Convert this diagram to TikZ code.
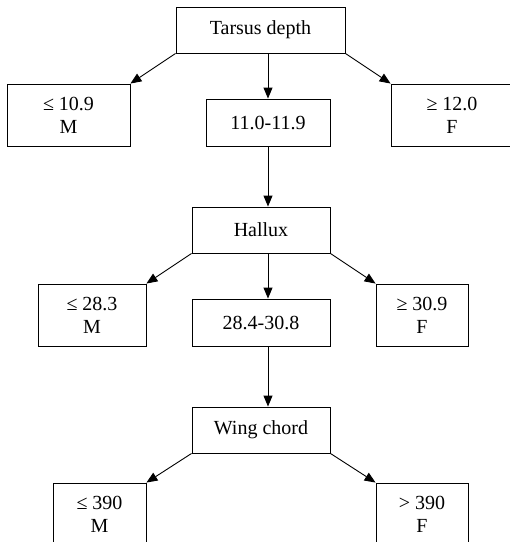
\documentclass[tikz,border=0pt]{standalone}
\usepackage{fontspec}
\setmainfont{Liberation Serif}
\usetikzlibrary{arrows.meta}
\begin{document}
\begin{tikzpicture}[x=1pt,y=-1pt,
  box/.style={draw,line width=0.9pt,rectangle,inner sep=0pt,align=center,
    font=\fontsize{20}{23}\selectfont},
  arr/.style={line width=0.9pt,-{Triangle[length=11pt,width=9pt]}}]
\useasboundingbox (0,0) rectangle (510,542);
\clip (0,0) rectangle (510,542);
% level 1
\node[box,minimum width=169pt,minimum height=46pt] (tarsus) at (260.5,30) {Tarsus depth};
\node[box,minimum width=123pt,minimum height=62pt] (l1) at (68.5,115) {≤ 10.9\\M};
\node[box,minimum width=124pt,minimum height=47pt] (m1) at (268,122.5) {11.0-11.9};
\node[box,minimum width=122pt,minimum height=62pt] (r1) at (452,115) {≥ 12.0\\F};
% level 2
\node[box,minimum width=138pt,minimum height=46pt] (hallux) at (261,230) {Hallux};
\node[box,minimum width=108pt,minimum height=62pt] (l2) at (92,315) {≤ 28.3\\M};
\node[box,minimum width=138pt,minimum height=47pt] (m2) at (261,322.5) {28.4-30.8};
\node[box,minimum width=92pt,minimum height=62pt] (r2) at (422,315) {≥ 30.9\\F};
% level 3
\node[box,minimum width=138pt,minimum height=46pt] (wing) at (261,430) {Wing chord};
\node[box,minimum width=93pt,minimum height=62pt] (l3) at (99.5,514) {≤ 390\\M};
\node[box,minimum width=92pt,minimum height=62pt] (r3) at (422,514) {> 390\\F};
% connectors
\draw[arr] (tarsus.south west) -- (l1.north east);
\draw[arr] (m1.north |- tarsus.south) -- (m1.north);
\draw[arr] (tarsus.south east) -- (r1.north west);
\draw[arr] (m1.south) -- (m1.south |- hallux.north);
\draw[arr] (hallux.south west) -- (l2.north east);
\draw[arr] (m1.south |- hallux.south) -- (m1.south |- m2.north);
\draw[arr] (hallux.south east) -- (r2.north west);
\draw[arr] (m1.south |- m2.south) -- (m1.south |- wing.north);
\draw[arr] (wing.south west) -- (l3.north east);
\draw[arr] (wing.south east) -- (r3.north west);
\end{tikzpicture}
\end{document}
